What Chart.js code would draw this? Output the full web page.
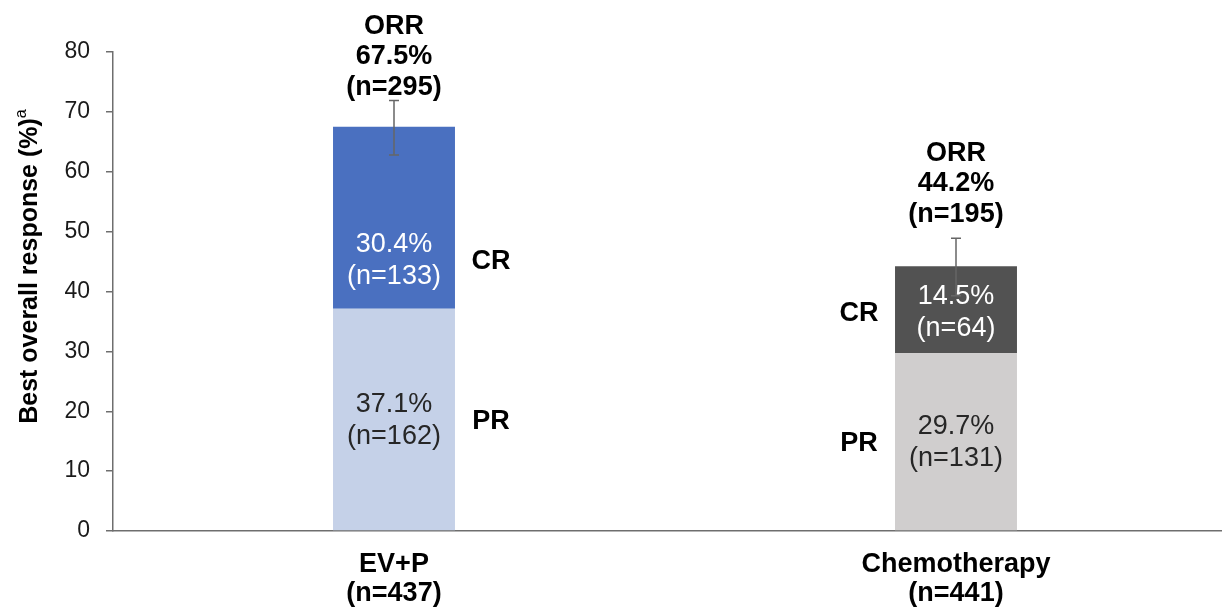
<!DOCTYPE html>
<html>
<head>
<meta charset="utf-8">
<script src="https://cdn.jsdelivr.net/npm/chart.js@4"></script>
<style>
  html, body { margin: 0; padding: 0; background: #fff; overflow: hidden; }
  #wrap { position: absolute; left: 0; top: 0; width: 1240px; height: 609px; }
</style>
</head>
<body>
<div id="wrap"><canvas id="orrChart"></canvas></div>
<script>
// groups and values
const groupLabels = [['EV+P', '(n=437)'], ['Chemotherapy', '(n=441)']];
const prValues = [37.1, 29.7];
const crValues = [30.4, 14.5];
const orrValues = [67.5, 44.2];
const prCounts = [162, 131];
const crCounts = [133, 64];
const orrCounts = [295, 195];
const ciLow = [62.8, 39.3];
const ciHigh = [71.9, 48.9];
const yTicks = [0, 10, 20, 30, 40, 50, 60, 70, 80];

const prColors = ['#C5D1E8', '#D0CECE'];
const crColors = ['#4A70C0', '#525252'];

const FONT = '"Liberation Sans", Arial, sans-serif';

// draws error bars, ORR / CR / PR texts and the y title
const annotatePlugin = {
    id: 'annotate',
    afterDatasetsDraw(chart) {
        const ctx = chart.ctx;
        const y = chart.scales.y;
        const prMeta = chart.getDatasetMeta(0);
        const crMeta = chart.getDatasetMeta(1);
        const crNudge = [42, 2]; // CR text on first bar sits below the error bar
        const orrGap = [13, 24];
        ctx.save();
        ctx.textAlign = 'center';
        ctx.textBaseline = 'middle';

        for (let i = 0; i < orrValues.length; i++) {
            const pr = prMeta.data[i];
            const cr = crMeta.data[i];
            const x = pr.x;
            const half = pr.width / 2;

            // error bar
            const yHi = y.getPixelForValue(ciHigh[i]);
            const yLo = y.getPixelForValue(ciLow[i]);
            ctx.strokeStyle = '#666666';
            ctx.lineWidth = 1.5;
            ctx.beginPath();
            ctx.moveTo(x, yHi); ctx.lineTo(x, yLo);
            ctx.moveTo(x - 5, yHi); ctx.lineTo(x + 5, yHi);
            ctx.moveTo(x - 5, yLo); ctx.lineTo(x + 5, yLo);
            ctx.stroke();

            // ORR label above
            ctx.fillStyle = '#000';
            ctx.font = 'bold 27px ' + FONT;
            const base = yHi - orrGap[i];
            ctx.fillText('(n=' + orrCounts[i] + ')', x, base);
            ctx.fillText(orrValues[i].toFixed(1) + '%', x, base - 31);
            ctx.fillText('ORR', x, base - 61);

            // inside labels
            ctx.font = '27px ' + FONT;
            const prMid = (pr.y + pr.base) / 2;
            const crMid = (cr.y + cr.base) / 2 + crNudge[i];
            ctx.fillStyle = '#262626';
            ctx.fillText(prValues[i].toFixed(1) + '%', x, prMid - 15);
            ctx.fillText('(n=' + prCounts[i] + ')', x, prMid + 17);
            ctx.fillStyle = '#ffffff';
            ctx.fillText(crValues[i].toFixed(1) + '%', x, crMid - 15);
            ctx.fillText('(n=' + crCounts[i] + ')', x, crMid + 17);

            // side labels
            ctx.fillStyle = '#000';
            ctx.font = 'bold 27px ' + FONT;
            const sx = i === 0 ? x + half + 36 : x - half - 36;
            ctx.fillText('CR', sx, crMid + 2);
            ctx.fillText('PR', sx, prMid + 2);
        }

        // y axis title with superscript
        ctx.translate(30, 266);
        ctx.rotate(-Math.PI / 2);
        ctx.font = 'bold 25px ' + FONT;
        const title = 'Best overall response (%)';
        const w = ctx.measureText(title).width;
        ctx.textAlign = 'left';
        ctx.fillText(title, -w / 2 - 5, 0);
        ctx.font = '16px ' + FONT;
        ctx.fillText('a', w / 2 - 5, -8);
        ctx.restore();
    }
};

const ctx = document.getElementById('orrChart').getContext('2d');
const myChart = new Chart(ctx, {
    type: 'bar',
    data: {
        labels: groupLabels,
        datasets: [
            { label: 'PR', data: prValues, backgroundColor: prColors, borderWidth: 0 },
            { label: 'CR', data: crValues, backgroundColor: crColors, borderWidth: 0 }
        ]
    },
    options: {
        responsive: true,
        maintainAspectRatio: false,
        animation: false,
        layout: { padding: { left: 0, top: 52, right: 3, bottom: 0 } },
        datasets: { bar: { categoryPercentage: 1, barPercentage: 0.217 } },
        plugins: { legend: { display: false }, tooltip: { enabled: false } },
        scales: {
            x: {
                stacked: true,
                grid: { display: false },
                border: { display: true, color: '#6e6e6e', width: 1.5 },
                ticks: { color: '#000', font: { family: FONT, size: 27, weight: 'bold', lineHeight: 1.08 }, padding: 11 },
                afterFit(scale) { scale.height = 78; }
            },
            y: {
                stacked: true,
                min: 0,
                max: 80,
                afterBuildTicks(scale) { scale.ticks = yTicks.map(v => ({ value: v })); },
                grid: { drawOnChartArea: false, drawTicks: true, tickLength: 7, color: '#6e6e6e', lineWidth: 1.5 },
                border: { display: true, color: '#6e6e6e', width: 1.5 },
                ticks: { color: '#1a1a1a', font: { family: FONT, size: 23 }, padding: 16 },
                afterFit(scale) { scale.width = 113; }
            }
        }
    },
    plugins: [annotatePlugin]
});
</script>
</body>
</html>
